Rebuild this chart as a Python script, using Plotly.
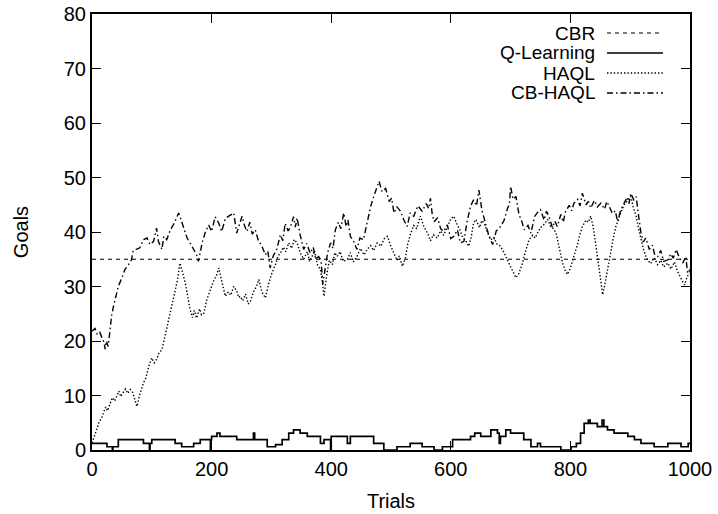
import plotly.graph_objects as go

# ---------------- data ----------------
cbr_trials = [0, 1000]
cbr_goals = [35, 35]

q_trials = [0, 25, 34, 35, 44, 86, 96, 97, 100, 139, 150, 170, 181, 198, 199, 200, 209, 214,
            242, 253, 270, 272, 293, 307, 318, 329, 337, 348, 360, 382, 388, 399, 400, 402,
            427, 432, 443, 471, 488,
            510, 532, 552, 572, 586, 603, 633, 640, 650, 667, 678, 681, 683, 692, 700, 722,
            734, 745, 750, 784, 801, 810, 817, 823, 830, 833, 845, 853, 856, 862, 873, 896,
            907, 918, 940, 963, 985, 997, 1000]
q_goals = [1.2, 0.6, 0, 0.6, 1.9, 1.2, 0, 1.2, 1.9, 1.2, 0.6, 1.2, 1.9, 0, 1.9, 2.5, 3.1, 2.5,
           1.9, 1.9, 3.1, 1.9, 0.6, 1.0, 1.9, 3.1, 3.7, 3.1, 2.5, 1.2, 1.9, 0, 2.5, 2.5,
           1.2, 2.5, 2.5, 1.2, 0,
           0.6, 1.2, 0.6, 0, 0.6, 1.9, 2.5, 3.1, 2.5, 3.7, 3.1, 1.2, 2.5, 3.7, 3.1, 1.9,
           0.6, 1.2, 0.6, 0, 0.6, 1.2, 3.1, 4.9, 5.5, 4.9, 4.3, 5.5, 4.3, 3.7, 3.1, 2.5,
           1.9, 1.2, 0.6, 1.2, 0.6, 1.2, 1.2]

haql_trials = [0, 4, 8, 12, 16, 19, 23, 26, 30, 34, 38, 41, 45, 48, 52, 56, 60, 64, 68, 72, 75,
               80, 86, 90, 95, 100, 104, 108, 112, 117, 122, 128, 134, 139, 143, 147, 151, 156,
               160, 164, 168, 171, 175, 180, 183, 187, 192, 198, 204, 208, 212, 216, 220, 223,
               228, 232, 237, 242, 245, 248, 252, 257, 261, 265, 270, 275, 279, 284, 290, 295,
               301, 307, 311, 315, 320, 324, 329, 334, 338, 343, 348, 354, 360, 364, 368, 372,
               377, 382, 385, 388, 393, 397, 402, 406, 410, 415, 420, 427, 432, 437, 443, 449,
               455, 460, 466, 471, 477, 483, 489, 494, 499, 505, 510, 514, 519, 524, 528, 533,
               538, 543, 549, 555, 561, 566, 571, 577, 583, 588, 594, 600, 605, 611, 615, 619,
               625, 630, 634, 638, 642, 648, 652, 656, 661, 667, 672, 677, 683, 690, 697, 703,
               709, 714, 720, 725, 731, 737, 741, 745, 750, 756, 762, 767, 772, 776, 780, 784,
               787, 791, 795, 800, 806, 812, 816, 820, 826, 830, 834, 838, 842, 845, 849, 852,
               854, 858, 862, 867, 872, 876, 881, 885, 890, 895, 901, 905, 910, 914, 918, 922,
               926, 929, 934, 940, 946, 951, 956, 963, 968, 974, 979, 984, 988, 991, 995, 1000]
haql_goals = [1.3, 2.4, 3.8, 5.2, 5.8, 6.8, 7.9, 7.2, 8.3, 9.6, 9.0, 9.9, 10.8, 9.8, 10.5, 11.2,
              10.4, 11.1, 10.6, 9.0, 8.0, 10.2, 12.3, 13.2, 15.4, 16.9, 16.0, 16.6, 17.8, 18.4,
              20.9, 23.3, 26.6, 29.4, 31.2, 34.3, 32.8, 30.7, 28.2, 25.8, 24.3, 25.6, 24.2, 25.9,
              24.8, 25.1, 27.6, 29.4, 31.2, 32.0, 33.4, 31.4, 29.6, 28.2, 29.0, 28.4, 30.0, 29.2,
              28.0, 28.2, 27.4, 28.6, 26.8, 27.3, 29.0, 30.0, 31.3, 29.0, 27.9, 30.4, 32.5, 34.1,
              35.6, 36.1, 37.2, 36.4, 38.0, 37.0, 38.6, 38.0, 36.2, 35.0, 36.4, 34.6, 35.5, 36.6,
              34.0, 33.1, 31.0, 28.2, 32.5, 34.8, 34.0, 36.2, 35.5, 36.4, 34.6, 35.0, 36.2, 34.5,
              35.5, 37.0, 35.8, 36.8, 37.5, 36.6, 38.0, 37.4, 38.8, 39.2, 37.6, 36.1, 34.8, 35.6,
              33.7, 35.2, 37.8, 39.8, 41.2, 40.6, 42.9, 41.0, 39.8, 38.4, 39.5, 38.9, 40.2, 39.4,
              41.0, 42.4, 42.9, 41.2, 40.5, 39.2, 38.4, 37.4, 39.0, 41.6, 42.3, 40.8, 42.1, 41.6,
              40.0, 38.6, 39.0, 37.8, 37.4, 36.0, 34.3, 33.0, 31.6, 32.4, 34.3, 36.5, 38.6, 39.4,
              38.9, 39.8, 40.8, 41.4, 42.3, 41.0, 40.6, 39.8, 37.6, 35.5, 34.3, 33.0, 32.2, 33.4,
              35.5, 37.8, 39.6, 41.0, 42.2, 41.8, 42.9, 41.0, 38.0, 35.5, 32.0, 29.5, 28.5, 30.6,
              33.1, 36.2, 39.0, 41.0, 42.6, 43.8, 45.0, 45.6, 46.5, 44.6, 42.9, 40.6, 38.6, 36.9,
              35.6, 34.9, 34.2, 35.3, 34.0, 34.8, 33.6, 34.3, 33.2, 34.5, 32.8, 31.6, 30.8, 30.3,
              31.8, 32.5]

cbhaql_trials = [0, 5, 9, 13, 17, 20, 22, 24, 27, 30, 33, 36, 40, 44, 50, 55, 61, 66, 69, 75, 80,
                 86, 92, 97, 103, 108, 111, 117, 120, 125, 131, 136, 145, 150, 159, 167, 175,
                 178, 184, 189, 195, 200, 206, 212, 217, 223, 231, 237, 242, 245, 251, 255, 259,
                 264, 268, 273, 278, 284, 290, 294, 298, 303, 309, 315, 319, 323, 328, 332, 337,
                 340, 343, 348, 354, 359, 365, 370, 374, 379, 383, 386, 390, 394, 399, 403, 407,
                 412, 416, 421, 425, 428, 432, 437, 443, 448, 454, 460, 466, 472, 476, 480, 485,
                 491, 497, 501, 505, 510, 516, 521, 527, 532, 538, 545, 552, 559, 563, 566, 569,
                 572, 578, 583, 588, 594, 600, 605, 611, 616, 622, 627, 633, 638, 643, 647, 652,
                 658, 664, 670, 676, 683, 689, 695, 698, 700, 704, 709, 714, 718, 723, 729, 734,
                 740, 745, 750, 756, 760, 764, 770, 774, 778, 784, 788, 792, 798, 802, 806, 812,
                 816, 820, 826, 830, 834, 840, 845, 851, 857, 861, 865, 870, 875, 879, 884, 890,
                 895, 898, 901, 906, 910, 914, 918, 922, 926, 932, 937, 941, 946, 951, 956, 963,
                 968, 972, 977, 982, 988, 993, 996, 1000]
cbhaql_goals = [21.8, 22.3, 21.2, 21.6, 20.5, 19.8, 18.5, 20.0, 19.0, 22.5, 24.8, 26.4, 28.3,
                30.0, 31.6, 33.1, 34.0, 34.9, 36.6, 36.8, 37.1, 38.6, 38.9, 37.7, 38.3, 40.7,
                38.3, 36.8, 39.2, 38.6, 40.4, 41.3, 43.5, 41.9, 38.9, 37.4, 35.8, 34.6, 37.9,
                39.8, 41.3, 40.1, 42.8, 41.6, 40.1, 42.5, 43.1, 43.5, 39.8, 41.0, 42.9, 41.2,
                40.1, 41.8, 39.6, 40.4, 38.5, 37.4, 35.8, 36.5, 33.4, 35.6, 36.8, 39.5, 38.4,
                41.6, 40.2, 41.0, 42.8, 40.9, 42.6, 39.5, 36.8, 37.9, 36.1, 37.2, 35.0, 35.5,
                34.8, 30.5, 33.1, 36.2, 38.0, 37.0, 40.4, 41.8, 40.6, 43.5, 41.0, 42.2, 39.2,
                38.4, 36.8, 38.9, 38.6, 41.5, 44.7, 46.8, 48.0, 49.3, 47.4, 48.0, 45.6, 46.2,
                43.5, 44.6, 43.8, 42.3, 41.0, 43.5, 42.9, 44.8, 43.8, 45.2, 44.3, 46.2, 43.2,
                41.9, 42.6, 40.6, 40.1, 41.3, 38.8, 39.2, 40.4, 38.0, 38.3, 41.8, 44.7, 45.9,
                44.8, 47.7, 44.0, 41.6, 39.2, 37.7, 40.2, 41.0, 42.1, 44.4, 45.0, 48.4, 46.0,
                46.5, 43.2, 42.2, 40.4, 41.2, 39.8, 42.8, 43.6, 44.1, 42.2, 43.8, 42.9, 40.8,
                42.0, 41.0, 43.2, 41.8, 43.8, 44.9, 43.9, 45.3, 46.0, 44.8, 47.1, 45.0, 45.6,
                44.4, 45.8, 44.6, 45.3, 44.2, 45.6, 44.7, 43.4, 43.9, 41.9, 44.0, 45.3, 46.4,
                45.2, 47.1, 45.9, 46.5, 43.0, 39.8, 38.2, 38.9, 36.8, 37.6, 35.8, 35.5, 36.6,
                34.6, 34.9, 36.0, 35.2, 36.8, 35.3, 34.3, 35.5, 32.4, 33.1]

legend_names = ["CBR", "Q-Learning", "HAQL", "CB-HAQL"]
x_ticks = [0, 200, 400, 600, 800, 1000]
y_ticks = [0, 10, 20, 30, 40, 50, 60, 70, 80]

# ---------------- styles ----------------
FONT = "Liberation Sans, Arial, Helvetica, sans-serif"
FS = 20
KEY_FS = 19
styles = {
    "CBR": dict(color="black", width=1.2, dash="4px,4px"),
    "Q-Learning": dict(color="black", width=1.7),
    "HAQL": dict(color="black", width=1.4, dash="1.4px,2px"),
    "CB-HAQL": dict(color="black", width=1.4, dash="6px,3px,1.5px,3px"),
}

fig = go.Figure()
fig.add_trace(go.Scatter(x=cbr_trials, y=cbr_goals, mode="lines", name="CBR",
                         line=styles["CBR"], showlegend=False))
fig.add_trace(go.Scatter(x=q_trials, y=q_goals, mode="lines", name="Q-Learning",
                         line=dict(**styles["Q-Learning"], shape="hv"), showlegend=False))
fig.add_trace(go.Scatter(x=haql_trials, y=haql_goals, mode="lines", name="HAQL",
                         line=styles["HAQL"], showlegend=False))
fig.add_trace(go.Scatter(x=cbhaql_trials, y=cbhaql_goals, mode="lines", name="CB-HAQL",
                         line=styles["CB-HAQL"], showlegend=False))

# gnuplot-style key: text right-aligned, line sample to the right
L, R, T, B = 92, 28, 14, 64
W, H = 718, 514
pw, ph = W - L - R, H - T - B
def px(x):
    return (x - L) / pw
def py(y):
    return (H - B - y) / ph

rows = [33, 53, 73, 93]
for name, yy in zip(legend_names, rows):
    fig.add_annotation(x=px(596), y=py(yy), xref="paper", yref="paper", text=name,
                       showarrow=False, xanchor="right", yanchor="middle", borderpad=0,
                       font=dict(family=FONT, size=KEY_FS, color="black"))
    st = styles[name]
    fig.add_shape(type="line", xref="paper", yref="paper", x0=px(607), x1=px(663),
                  y0=py(yy), y1=py(yy),
                  line=dict(color="black", width=st["width"], dash=st.get("dash", "solid")))

axis_common = dict(showline=True, linecolor="black", linewidth=2, mirror="ticks",
                   ticks="inside", ticklen=9, tickwidth=1.3, tickcolor="black",
                   showgrid=False, zeroline=False,
                   tickfont=dict(family=FONT, size=FS, color="black"))
fig.update_xaxes(range=[0, 1000], tickvals=x_ticks, ticktext=[str(v) for v in x_ticks],
                 title=dict(text="Trials", font=dict(family=FONT, size=FS, color="black"), standoff=15),
                 **axis_common)
fig.update_yaxes(range=[0, 80], tickvals=y_ticks, ticktext=[str(v) for v in y_ticks],
                 title=dict(text="Goals", font=dict(family=FONT, size=FS, color="black"), standoff=30),
                 **axis_common)
fig.update_layout(width=W, height=H, margin=dict(l=L, r=R, t=T, b=B, autoexpand=False),
                  paper_bgcolor="white", plot_bgcolor="white", showlegend=False)
fig.write_html("out.html", config={"displayModeBar": False},
               post_script="document.body.style.margin='0px';")
